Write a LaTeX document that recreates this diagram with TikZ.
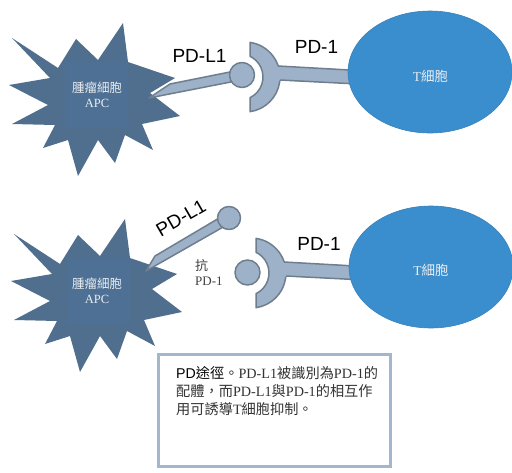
\documentclass[tikz,border=0pt]{standalone}
\usepackage{fontspec}
\setmainfont{Liberation Serif}
\setsansfont{Liberation Sans}
\newfontfamily\cjk{Noto Sans CJK TC}
\definecolor{apcblue}{HTML}{506E8E}
\definecolor{apcbox}{HTML}{4E7094}
\definecolor{tblue}{HTML}{3B8ECE}
\definecolor{stickfill}{HTML}{9DB2C8}
\definecolor{stickline}{HTML}{6E7E8E}
\definecolor{boxline}{HTML}{A3B6CB}
\begin{document}
\begin{tikzpicture}[x=1pt,y=-1pt,
  stick/.style={fill=stickfill,draw=stickline,line width=1.5pt,line join=round},
  tcell/.style={fill=tblue,draw=tblue!90!black,line width=0.6pt},
  molname/.style={font=\sffamily\fontsize{19}{19}\selectfont,inner sep=0pt},
  celltext/.style={text=white!88!apcblue,align=center,inner sep=0pt,
    font=\fontsize{12.5}{15}\selectfont},
  notebox/.style={draw=boxline,line width=3pt,fill=white,
    minimum width=232,minimum height=112,inner sep=0pt},
  notetext/.style={align=left,inner sep=0pt,text=black!80,
    font=\fontsize{14.2}{18}\selectfont},
  % tumour cell: star outline and the square behind its name
  apc/.pic={
    \fill[apcblue] (12,38) -- (58,68) -- (76,39) -- (98,60) -- (123,23)
      -- (128,62) -- (175,78) -- (150,93) -- (180,116) -- (142,124)
      -- (153,150) -- (125,135) -- (115,163) -- (98,140) -- (78,176)
      -- (68,140) -- (43,148) -- (55,125) -- (12,124) -- (48,105)
      -- (9,85) -- (50,78) -- cycle;
    \fill[apcbox] (65,62) rectangle (128,128);
  },
  % PD-1: cup and its stalk into the T cell
  receptor/.pic={
    \filldraw[stick] (250,42.4) arc[start angle=-81.8,end angle=81.8,radius=35]
      -- (250,97.7) arc[start angle=64.2,end angle=-64.2,radius=23] -- cycle;
    \fill[stickfill] (268,65.5) -- (358,70) -- (358,84) -- (268,80) -- cycle;
    \draw[stickline,line width=1.5pt] (278,66) -- (358,70.5) (280,80) -- (358,84);
  }]
\useasboundingbox (0,0) rectangle (512,472);

% bound PD-L1 / PD-1
\pic at (0,0) {apc};
\pic at (0,0) {receptor};
\filldraw[stick] (149,98) -- (170,84) -- (240,70) -- (241,80) -- cycle;
\filldraw[stick] (242,75) circle[radius=12.5];
\filldraw[tcell] (430,72) ellipse[x radius=82,y radius=61];
\node[celltext] (apcA) at (97,95) {{\cjk 腫瘤細胞}\\APC};
\node[celltext,font=\fontsize{13.5}{15}\selectfont] (tA) at (430.5,76) {T{\cjk 細胞}};
\node[molname,anchor=base] (pdlA) at (199.5,62.5) {PD-L1};
\node[molname,anchor=base] (pdA) at (316.5,53) {PD-1};

% blocked by anti-PD-1
\pic at (2,196) {apc};
\pic at (6,196) {receptor};
\filldraw[stick] (146,271) -- (155,256) -- (226,214) -- (232,222) -- cycle;
\filldraw[stick] (229,218) circle[radius=11.5];
\filldraw[stick] (247.5,272.5) circle[radius=12.5];
\filldraw[tcell] (431,267) ellipse[x radius=82,y radius=61];
\node[celltext] (apcB) at (97,291) {{\cjk 腫瘤細胞}\\APC};
\node[celltext,font=\fontsize{13.5}{15}\selectfont] (tB) at (431,270) {T{\cjk 細胞}};
\node[molname,rotate=30] (pdlB) at (181,218) {PD-L1};
\node[molname,anchor=base] (pdB) at (319,250) {PD-1};
\node[align=left,anchor=west,inner sep=0pt,text=black!75,
  font=\fontsize{13}{15}\selectfont] (antiB) at (195,272.5) {{\cjk 抗}\\PD-1};

% caption
\node[notebox] (note) at (274.5,410.5) {};
\node[notetext,anchor=north west] (notetxt) at ([shift={(19,13)}]note.north west)
  {{\color{black}\sffamily PD\cjk 途徑}{\cjk 。}PD-L1{\cjk 被識別為}PD-1{\cjk 的}\\
   {\cjk 配體，而}PD-L1{\cjk 與}PD-1{\cjk 的相互作}\\
   {\cjk 用可誘導}T{\cjk 細胞抑制。}};
\end{tikzpicture}
\end{document}
